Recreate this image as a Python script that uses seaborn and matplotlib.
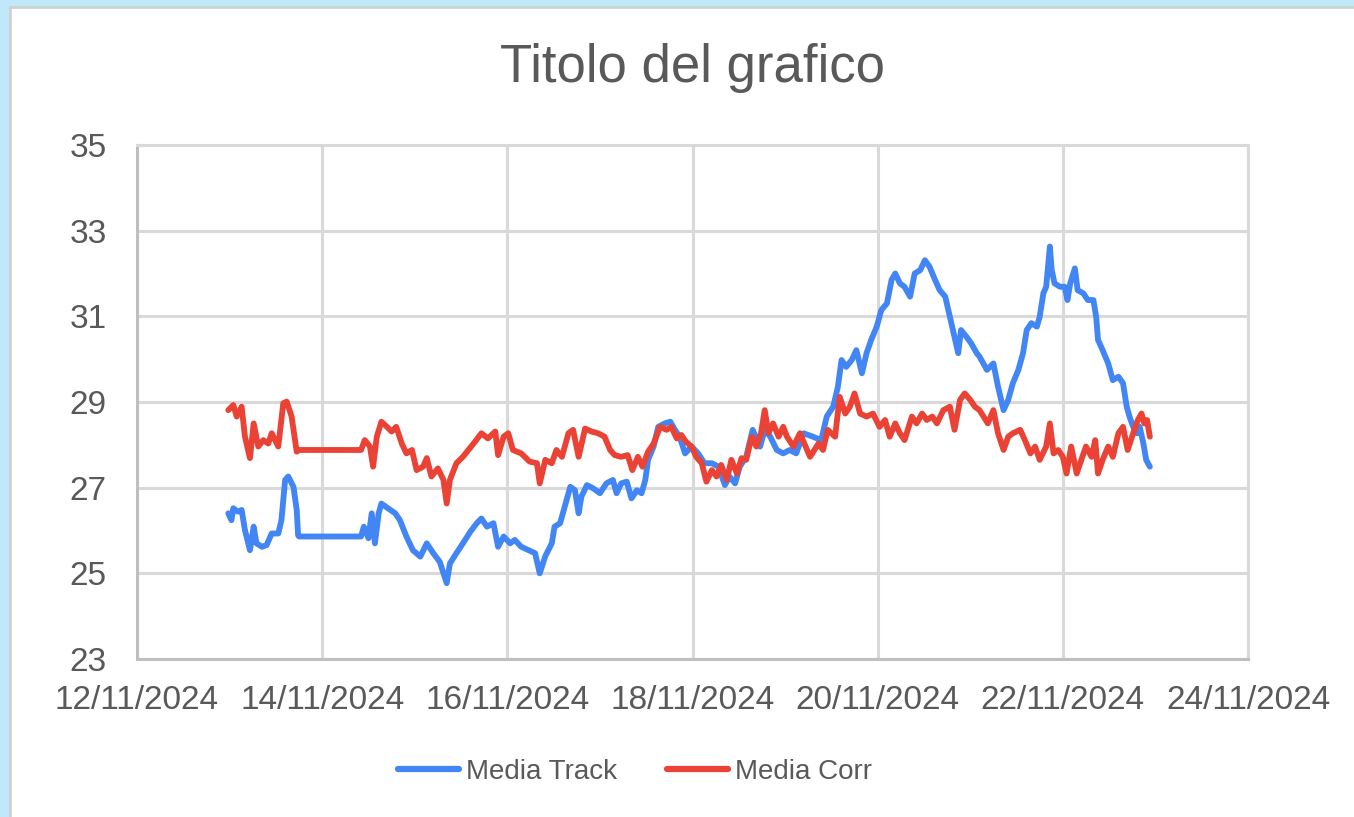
import pandas as pd
import matplotlib.pyplot as plt
import matplotlib.dates as mdates
from matplotlib.patches import Rectangle
import seaborn as sns

# days elapsed since 12/11/2024 00:00
track_days = [0.986, 1.02, 1.04, 1.09, 1.13, 1.166, 1.22, 1.26, 1.29, 1.35, 1.40, 1.455, 1.526, 1.56, 1.60, 1.634,
              1.69, 1.725, 1.74, 1.75, 2.42, 2.45, 2.50, 2.535, 2.57, 2.61, 2.64, 2.71, 2.79, 2.84, 2.91, 2.98,
              3.06, 3.13, 3.20, 3.27, 3.345, 3.38, 3.45, 3.52, 3.60, 3.67, 3.72, 3.78, 3.85, 3.90, 3.96, 4.03,
              4.08, 4.15, 4.23, 4.30, 4.35, 4.41, 4.48, 4.51, 4.57, 4.62, 4.68, 4.73, 4.77, 4.80, 4.86, 4.93,
              5.00, 5.07, 5.14, 5.18, 5.23, 5.29, 5.34, 5.40, 5.45, 5.49, 5.52, 5.58, 5.63, 5.70, 5.76, 5.81,
              5.86, 5.92, 5.99, 6.06, 6.13, 6.21, 6.28, 6.35, 6.40, 6.46, 6.51, 6.58, 6.65, 6.73, 6.78, 6.84,
              6.91, 6.98, 7.05, 7.12, 7.20, 7.30, 7.39, 7.45, 7.52, 7.57, 7.61, 7.66, 7.72, 7.77, 7.83, 7.88,
              7.93, 7.99, 8.04, 8.10, 8.15, 8.19, 8.24, 8.29, 8.35, 8.40, 8.46, 8.51, 8.56, 8.62, 8.67, 8.73,
              8.78, 8.83, 8.87, 8.90, 8.96, 9.01, 9.07, 9.10, 9.18, 9.25, 9.30, 9.36, 9.41, 9.46, 9.52, 9.57,
              9.61, 9.66, 9.72, 9.75, 9.79, 9.82, 9.86, 9.88, 9.91, 9.97, 10.02, 10.05, 10.08, 10.13, 10.16, 10.22,
              10.27, 10.33, 10.36, 10.38, 10.43, 10.49, 10.54, 10.60, 10.65, 10.69, 10.72, 10.76, 10.80, 10.83, 10.87, 10.90,
              10.94]
track_vals = [26.40, 26.24, 26.52, 26.44, 26.48, 26.01, 25.54, 26.09, 25.70, 25.62, 25.66, 25.93, 25.93, 26.24, 27.18, 27.26,
              27.02, 26.48, 25.89, 25.86, 25.86, 26.09, 25.82, 26.40, 25.70, 26.40, 26.63, 26.52, 26.40, 26.24, 25.86, 25.54,
              25.39, 25.70, 25.47, 25.27, 24.77, 25.23, 25.47, 25.70, 25.97, 26.17, 26.28, 26.09, 26.17, 25.62, 25.86, 25.70,
              25.78, 25.62, 25.54, 25.47, 25.00, 25.40, 25.70, 26.09, 26.17, 26.56, 27.02, 26.94, 26.40, 26.79, 27.06, 26.98,
              26.87, 27.10, 27.18, 26.87, 27.10, 27.14, 26.75, 26.94, 26.87, 27.18, 27.65, 27.96, 28.42, 28.50, 28.54, 28.35,
              28.19, 27.80, 27.96, 27.80, 27.57, 27.57, 27.49, 27.06, 27.26, 27.10, 27.49, 27.72, 28.35, 27.96, 28.35, 28.19,
              27.88, 27.80, 27.88, 27.80, 28.27, 28.19, 28.11, 28.66, 28.89, 29.35, 29.98, 29.82, 29.98, 30.21, 29.67, 30.14,
              30.45, 30.76, 31.15, 31.30, 31.85, 32.00, 31.77, 31.69, 31.46, 32.00, 32.08, 32.31, 32.16, 31.85, 31.61, 31.46,
              30.99, 30.52, 30.14, 30.68, 30.52, 30.37, 30.14, 30.06, 29.75, 29.90, 29.36, 28.81, 29.05, 29.44, 29.75, 30.14,
              30.68, 30.84, 30.76, 30.99, 31.54, 31.69, 32.63, 32.08, 31.77, 31.69, 31.69, 31.38, 31.77, 32.12, 31.61, 31.54,
              31.38, 31.38, 30.99, 30.45, 30.21, 29.90, 29.51, 29.59, 29.44, 28.89, 28.66, 28.42, 28.27, 28.42, 28.03, 27.65,
              27.49]

corr_days = [0.986, 1.04, 1.077, 1.13, 1.166, 1.22, 1.26, 1.31, 1.364, 1.418, 1.455, 1.526, 1.58, 1.617, 1.67, 1.725,
             1.75, 2.42, 2.46, 2.516, 2.55, 2.59, 2.64, 2.70, 2.75, 2.80, 2.86, 2.91, 2.97, 3.02, 3.09, 3.13,
             3.18, 3.25, 3.31, 3.345, 3.38, 3.45, 3.52, 3.58, 3.65, 3.72, 3.79, 3.87, 3.90, 3.96, 4.01, 4.06,
             4.15, 4.24, 4.32, 4.35, 4.41, 4.48, 4.53, 4.59, 4.66, 4.71, 4.77, 4.84, 4.91, 4.98, 5.05, 5.11,
             5.16, 5.23, 5.30, 5.35, 5.41, 5.46, 5.52, 5.58, 5.65, 5.72, 5.77, 5.83, 5.88, 5.93, 5.99, 6.04,
             6.10, 6.15, 6.21, 6.26, 6.31, 6.37, 6.42, 6.48, 6.53, 6.58, 6.64, 6.69, 6.74, 6.78, 6.82, 6.87,
             6.93, 6.98, 7.02, 7.09, 7.16, 7.27, 7.36, 7.41, 7.46, 7.54, 7.59, 7.65, 7.70, 7.75, 7.81, 7.88,
             7.95, 8.02, 8.08, 8.13, 8.19, 8.24, 8.29, 8.37, 8.42, 8.48, 8.53, 8.59, 8.64, 8.71, 8.78, 8.83,
             8.89, 8.94, 9.00, 9.05, 9.10, 9.19, 9.25, 9.30, 9.36, 9.41, 9.46, 9.54, 9.59, 9.65, 9.70, 9.75,
             9.82, 9.86, 9.90, 9.95, 10.00, 10.04, 10.09, 10.15, 10.20, 10.25, 10.31, 10.35, 10.38, 10.43, 10.49, 10.54,
             10.60, 10.65, 10.70, 10.76, 10.81, 10.85, 10.88, 10.91, 10.94]
corr_vals = [28.81, 28.93, 28.66, 28.89, 28.19, 27.69, 28.50, 27.96, 28.11, 28.03, 28.27, 27.96, 28.97, 29.01, 28.66, 27.84,
             27.88, 27.88, 28.11, 27.96, 27.49, 28.19, 28.54, 28.42, 28.31, 28.42, 28.03, 27.80, 27.88, 27.41, 27.49, 27.69,
             27.26, 27.45, 27.18, 26.63, 27.18, 27.57, 27.72, 27.88, 28.07, 28.27, 28.15, 28.31, 27.76, 28.19, 28.27, 27.88,
             27.80, 27.61, 27.57, 27.10, 27.65, 27.57, 27.88, 27.72, 28.27, 28.35, 27.72, 28.38, 28.31, 28.27, 28.19, 27.88,
             27.76, 27.72, 27.76, 27.41, 27.72, 27.49, 27.84, 28.03, 28.42, 28.35, 28.42, 28.15, 28.23, 28.07, 27.96, 27.72,
             27.57, 27.14, 27.41, 27.26, 27.53, 27.18, 27.65, 27.33, 27.69, 27.65, 28.19, 27.96, 28.27, 28.81, 28.27, 28.50,
             28.19, 28.42, 28.19, 27.96, 28.27, 27.72, 28.03, 27.88, 28.35, 28.19, 29.12, 28.73, 28.89, 29.20, 28.73, 28.66,
             28.73, 28.42, 28.58, 28.19, 28.50, 28.27, 28.11, 28.66, 28.50, 28.73, 28.58, 28.66, 28.50, 28.81, 28.89, 28.35,
             29.05, 29.20, 29.05, 28.89, 28.81, 28.50, 28.81, 28.27, 27.88, 28.19, 28.27, 28.35, 28.11, 27.80, 27.96, 27.65,
             27.96, 28.50, 27.80, 27.88, 27.72, 27.33, 27.96, 27.33, 27.65, 27.96, 27.72, 28.11, 27.33, 27.65, 27.96, 27.72,
             28.27, 28.42, 27.88, 28.27, 28.58, 28.73, 28.50, 28.58, 28.19]

series_names = ['Media Track', 'Media Corr']
series_colors = ['#4285F4', '#EA4335']
start = pd.Timestamp('2024-11-12')

df = pd.concat([
    pd.DataFrame({'time': start + pd.to_timedelta(track_days, unit='D'), 'value': track_vals, 'serie': series_names[0]}),
    pd.DataFrame({'time': start + pd.to_timedelta(corr_days, unit='D'), 'value': corr_vals, 'serie': series_names[1]}),
])

sns.set_theme(style='whitegrid')
plt.rcParams['font.family'] = ['Liberation Sans', 'DejaVu Sans']
text_col = '#595959'

fig = plt.figure(figsize=(13.54, 8.17), dpi=100)
fig.patch.set_facecolor('#bfe9f8')
# white chart area with grey border, like the Excel frame
fig.add_artist(Rectangle((10 / 1354, -0.01), 1.02, 1 - 7 / 817 + 0.01, transform=fig.transFigure,
                         facecolor='white', edgecolor='#d0d0d0', linewidth=2, zorder=0))

ax = fig.add_axes([137 / 1354, 1 - 659 / 817, (1248 - 137) / 1354, (659 - 145) / 817])
sns.lineplot(data=df, x='time', y='value', hue='serie', palette=dict(zip(series_names, series_colors)),
             linewidth=4.2, ax=ax, legend=False, estimator=None, sort=True)

ax.set_xlim(pd.Timestamp('2024-11-12'), pd.Timestamp('2024-11-24'))
ax.set_ylim(23, 35)
ax.set_yticks(range(23, 36, 2))
ax.xaxis.set_major_locator(mdates.DayLocator(interval=2, bymonthday=[12, 14, 16, 18, 20, 22, 24]))
ax.xaxis.set_major_formatter(mdates.DateFormatter('%d/%m/%Y'))
ax.set_xlabel('')
ax.set_ylabel('')
ax.grid(True, color='#d9d9d9', linewidth=2.2)
ax.set_facecolor('white')
for side, sp in ax.spines.items():
    sp.set_visible(True)
    sp.set_linewidth(2.2)
    sp.set_color('#bfbfbf' if side in ('left', 'bottom') else '#d9d9d9')
ax.tick_params(axis='y', labelsize=24, labelcolor=text_col, length=0, pad=22)
ax.tick_params(axis='x', labelsize=24, labelcolor=text_col, length=0, pad=19)

fig.text(692 / 1354, 1 - 68 / 817, 'Titolo del grafico', ha='center', va='center', fontsize=38, color=text_col)

handles = [plt.Line2D([], [], color=c, linewidth=4.5, solid_capstyle='round') for c in series_colors]
leg = fig.legend(handles, series_names, loc='center', bbox_to_anchor=(635 / 1354, 1 - 772 / 817), ncol=2,
                 frameon=False, fontsize=20, handlelength=2.2, handletextpad=0.25, columnspacing=1.8)
for t in leg.get_texts():
    t.set_color(text_col)

plt.savefig('out.png', dpi=100, facecolor=fig.get_facecolor())
